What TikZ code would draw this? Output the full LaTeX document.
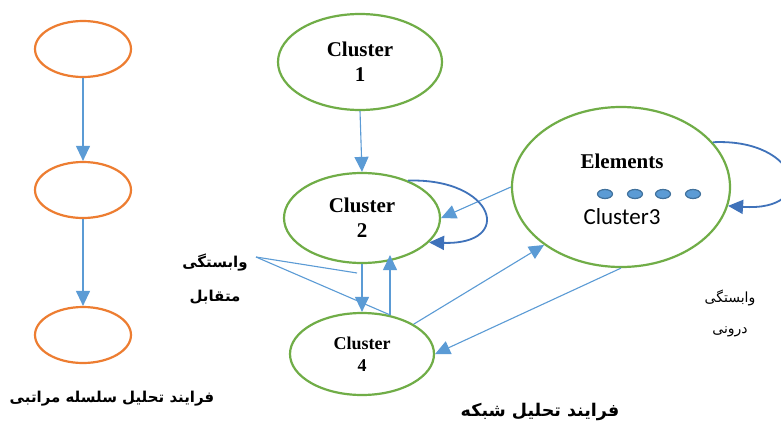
\documentclass[tikz,border=0pt]{standalone}
\usepackage{fontspec}
\setmainfont{Liberation Serif}
\newfontfamily\calfont{Carlito}
\newfontfamily\arabicfont[Script=Arabic]{DejaVu Sans}
\TeXXeTstate=1
\usetikzlibrary{positioning,calc,arrows.meta,shapes.geometric}
\definecolor{hierorange}{HTML}{ED7D31}
\definecolor{netgreen}{HTML}{70AD47}
\definecolor{linkblue}{HTML}{5B9BD5}
\definecolor{loopblue}{HTML}{3F72BA}
\definecolor{dotedge}{HTML}{41719C}
\tikzset{
	hier/.style={ellipse, draw=hierorange, line width=2.2pt, minimum width=96pt, minimum height=56pt, inner sep=0pt},
	clus/.style={ellipse, draw=netgreen, line width=2.2pt, inner sep=0pt, align=center, font=\fontsize{21}{25}\selectfont\bfseries},
	dot/.style={ellipse, fill=linkblue, draw=dotedge, line width=1.2pt, minimum width=15pt, minimum height=9pt, inner sep=0pt},
	link/.style={draw=linkblue, line width=1.1pt, -{Triangle[length=15pt,width=14pt]}},
	plain/.style={draw=linkblue, line width=1.1pt},
	loopy/.style={draw=loopblue, line width=1.8pt, -{Triangle[length=15pt,width=14pt]}},
	fatitle/.style={font={\fontsize{15}{20}\selectfont\arabicfont\bfseries}},
	fanote/.style={font={\fontsize{14}{20}\selectfont\arabicfont}}
}

\begin{document}
\begin{tikzpicture}[x=1pt,y=-1pt]
	\clip (0,0) rectangle (781,423);
	\fill[white] (0,0) rectangle (781,423);

	% hierarchy
	\node[hier] (h1) at (83,49) {};
	\node[hier] (h2) at (83,190) {};
	\node[hier] (h3) at (83,335) {};
	\node[fatitle] (hlbl) at (112,399) {\beginR فرایند تحلیل سلسله مراتبی\endR};

	\draw[link] (h1) to (h2);
	\draw[link] (h2) to (h3);

	% network
	\node[clus, minimum width=164pt, minimum height=96pt] (c1) at (360,62) {Cluster\\1};
	\node[clus, minimum width=156pt, minimum height=90pt] (c2) at (362,218) {Cluster\\2};
	\node[clus, minimum width=144pt, minimum height=82pt, font=\fontsize{18}{22}\selectfont\bfseries] (c4) at (362,354) {Cluster\\4};
	\node[clus, minimum width=218pt, minimum height=160pt] (c3) at (621,187) {};

	\node[font=\fontsize{21}{25}\selectfont\bfseries] (elem) at (622,161) {Elements};
	\foreach \i/\x in {1/605,2/635,3/663,4/693}
		\node[dot] (d\i) at (\x,194) {};
	\node[font={\calfont\fontsize{23}{24}\selectfont}] (c3lbl) at (622,217) {Cluster3};

	\node[fatitle] (mut1) at (215,263) {\beginR وابستگی\endR};
	\node[fatitle] (mut2) at (215,297) {\beginR متقابل\endR};
	\node[fanote] (in1) at (730,298) {\beginR وابستگی\endR};
	\node[fanote] (in2) at (730,332) {\beginR درونی\endR};
	\node[fatitle, font={\fontsize{17.5}{20}\selectfont\arabicfont\bfseries}] (nlbl) at (540,412) {\beginR فرایند تحلیل شبکه\endR};

	\draw[link] (c1.south) -- (c2.north);
	\draw[link] (c2.south) -- (c4.north);
	\draw[link] ([xshift=28pt,yshift=-3pt]c4.north) -- ([xshift=28pt,yshift=9pt]c2.south);
	\draw[link] (c3.west) -- (c2.east);
	\draw[link] (c4.30) -- (c3.-143);
	\draw[link] (c3.south) -- (c4.east);

	\draw[loopy] (c2.39) .. controls (495,178) and (515,245) .. (c2.-20);
	\draw[loopy] (c3.26) .. controls (800,138) and (820,212) .. (c3.-10);

	% labels pointing at the two-way links
	\coordinate (mutsrc) at (256,257);
	\coordinate (mutend) at (357,273);
	\draw[plain] (mutsrc) -- (mutend);
	\draw[plain] (mutsrc) -- ([xshift=28pt,yshift=-3pt]c4.north);
\end{tikzpicture}
\end{document}
